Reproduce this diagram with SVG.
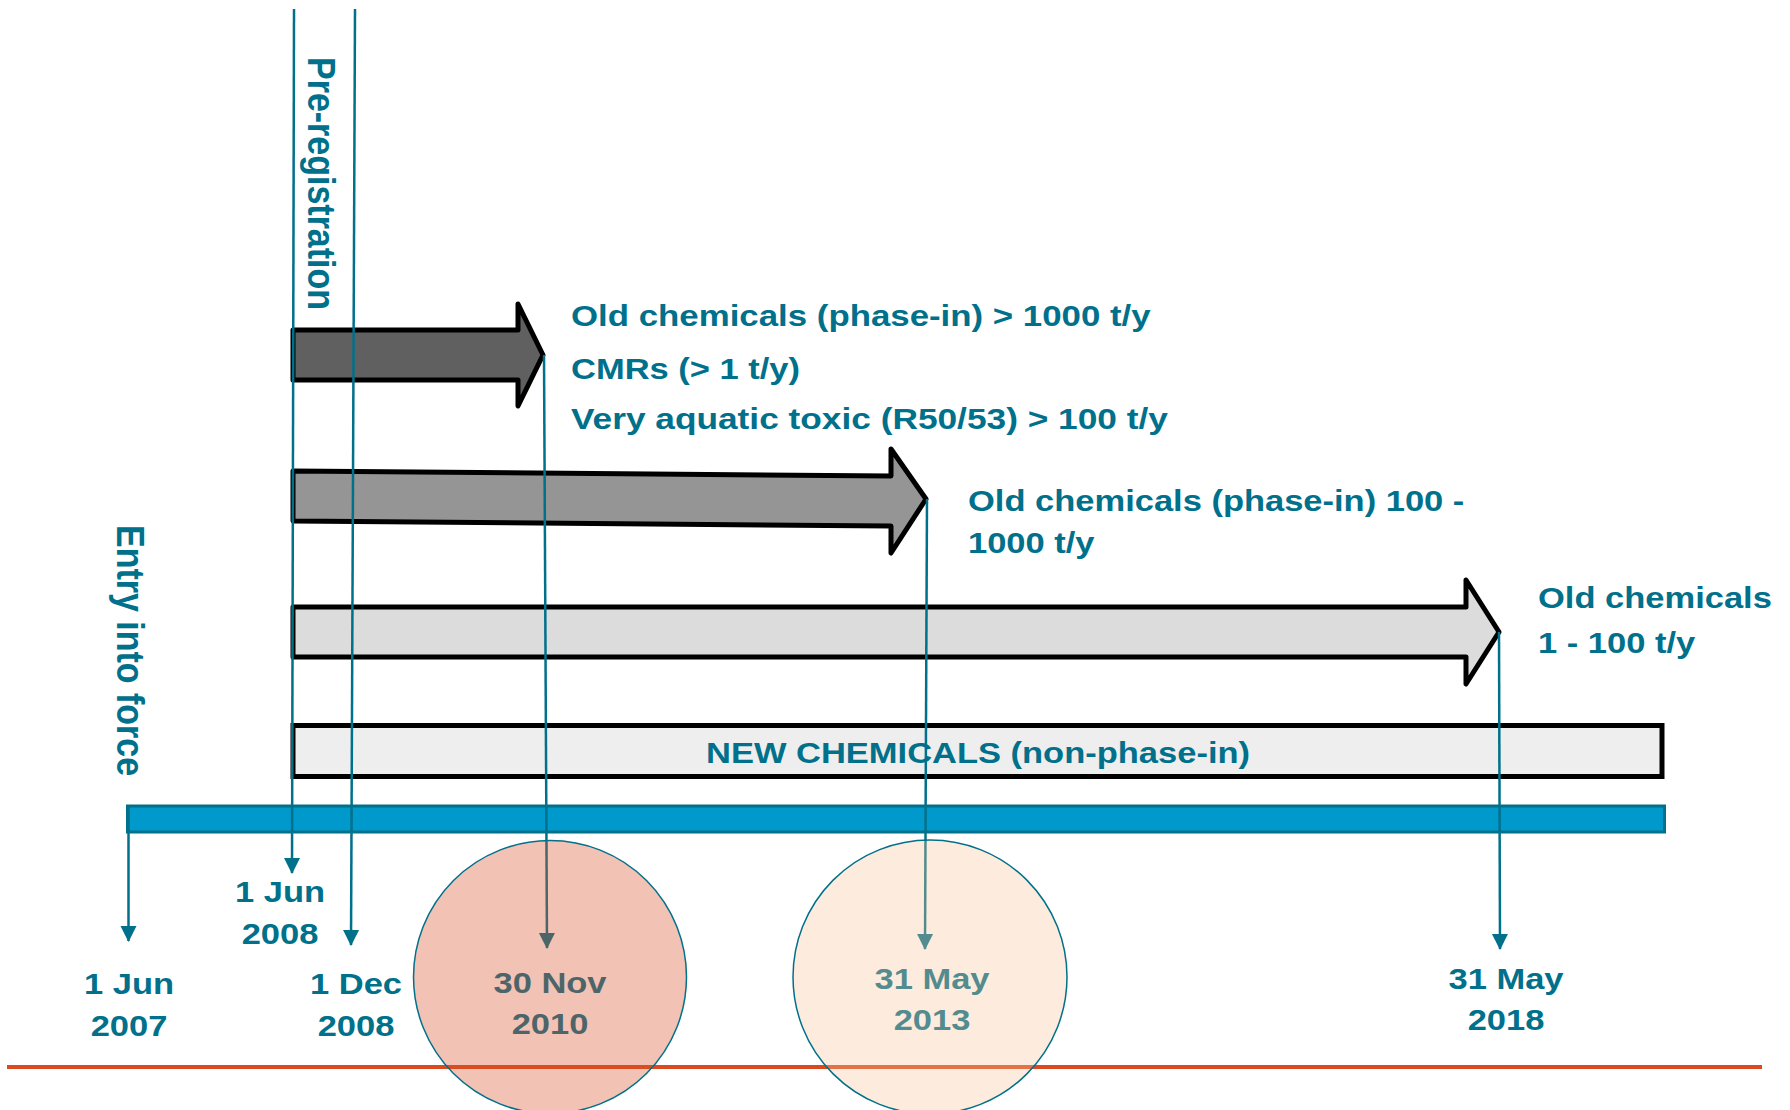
<svg xmlns="http://www.w3.org/2000/svg" width="1790" height="1110" viewBox="0 0 1790 1110">
<style>
.t{font-family:"Liberation Sans",Arial,Helvetica,sans-serif;font-weight:bold;font-size:30px;fill:#00708B}
.v{font-family:"Liberation Sans",Arial,Helvetica,sans-serif;font-weight:bold;font-size:34px;fill:#00708B}
.c{text-anchor:middle}
.ln{stroke:#00708B;stroke-width:2.5;fill:none}
.arr{stroke:#000;stroke-width:5;stroke-linejoin:round}
.circ{stroke:#00708B;stroke-width:1.5}
</style>
<defs>
<marker id="ah" markerUnits="userSpaceOnUse" markerWidth="18" markerHeight="18" refX="15" refY="9" orient="auto">
<path d="M0,1 L16,9 L0,17 Z" fill="#00708B"/>
</marker>
</defs>
<rect width="1790" height="1110" fill="#fff"/>

<g id="timeline-bar">
<rect x="127.5" y="806" width="1537" height="26" fill="#0099CC" stroke="#00708B" stroke-width="3"/>
</g>

<g id="arrow-1000">
<path class="arr" d="M293,330 L518,330 L518,304 L543,355 L518,406 L518,380 L293,380 Z" fill="#606060"/>
<text class="t" transform="translate(571,326) scale(1.15,1)"><tspan x="0" y="0" textLength="504" lengthAdjust="spacingAndGlyphs">Old chemicals (phase-in) &gt; 1000 t/y</tspan><tspan x="0" y="53">CMRs (&gt; 1 t/y)</tspan><tspan x="0" y="103" textLength="519" lengthAdjust="spacingAndGlyphs">Very aquatic toxic (R50/53) &gt; 100 t/y</tspan></text>
</g>

<g id="arrow-100">
<path class="arr" d="M293,471 L891,476 L891,449 L926,499 L891,553 L891,526 L293,521 Z" fill="#959595"/>
<text class="t" transform="translate(968,511) scale(1.15,1)"><tspan x="0" y="0">Old chemicals (phase-in) 100 -</tspan><tspan x="0" y="42">1000 t/y</tspan></text>
</g>

<g id="arrow-1">
<path class="arr" d="M293,607 L1466,607 L1466,580 L1499,632 L1466,684 L1466,657 L293,657 Z" fill="#DCDCDC"/>
<text class="t" transform="translate(1538,608) scale(1.15,1)"><tspan x="0" y="0">Old chemicals</tspan><tspan x="0" y="45">1 - 100 t/y</tspan></text>
</g>

<g id="new-chemicals">
<rect x="293" y="725.5" width="1369" height="51" fill="#EEEEEE" stroke="#000" stroke-width="5"/>
<text class="t c" transform="translate(978,763) scale(1.15,1)">NEW CHEMICALS (non-phase-in)</text>
</g>

<g id="label-entry">
<text class="v" transform="translate(117,525) scale(1.14,1) rotate(90)">Entry into force</text>
</g>
<g id="label-prereg">
<text class="v" transform="translate(308,57) scale(1.14,1) rotate(90)">Pre-registration</text>
</g>

<g id="connectors">
<line class="ln" x1="128.5" y1="806" x2="128.5" y2="941" marker-end="url(#ah)"/>
<line class="ln" x1="294" y1="9" x2="292" y2="873" marker-end="url(#ah)"/>
<line class="ln" x1="355" y1="9" x2="351" y2="945" marker-end="url(#ah)"/>
<line class="ln" x1="544" y1="355" x2="547" y2="948" marker-end="url(#ah)"/>
<line class="ln" x1="927" y1="499" x2="925" y2="949" marker-end="url(#ah)"/>
<line class="ln" x1="1499" y1="632" x2="1500" y2="949" marker-end="url(#ah)"/>
</g>

<g id="date-2007"><text class="t c" transform="translate(129,994) scale(1.15,1)"><tspan x="0" y="0">1 Jun</tspan><tspan x="0" y="42">2007</tspan></text></g>
<g id="date-jun2008"><text class="t c" transform="translate(280,902) scale(1.15,1)"><tspan x="0" y="0">1 Jun</tspan><tspan x="0" y="42">2008</tspan></text></g>
<g id="date-dec2008"><text class="t c" transform="translate(356,994) scale(1.15,1)"><tspan x="0" y="0">1 Dec</tspan><tspan x="0" y="42">2008</tspan></text></g>
<g id="date-2010"><text class="t c" transform="translate(550,993) scale(1.15,1)"><tspan x="0" y="0">30 Nov</tspan><tspan x="0" y="41">2010</tspan></text></g>
<g id="date-2013"><text class="t c" transform="translate(932,989) scale(1.15,1)"><tspan x="0" y="0">31 May</tspan><tspan x="0" y="41">2013</tspan></text></g>
<g id="date-2018"><text class="t c" transform="translate(1506,989) scale(1.15,1)"><tspan x="0" y="0">31 May</tspan><tspan x="0" y="41">2018</tspan></text></g>

<g id="baseline-red">
<line x1="7" y1="1067" x2="1762" y2="1067" stroke="#DA4A1E" stroke-width="4"/>
</g>

<g id="circle-2010"><circle class="circ" cx="550" cy="977" r="136.5" fill="#DA512C" fill-opacity="0.35"/></g>
<g id="circle-2013"><circle class="circ" cx="930" cy="977" r="137" fill="#F9C499" fill-opacity="0.33"/></g>
</svg>
